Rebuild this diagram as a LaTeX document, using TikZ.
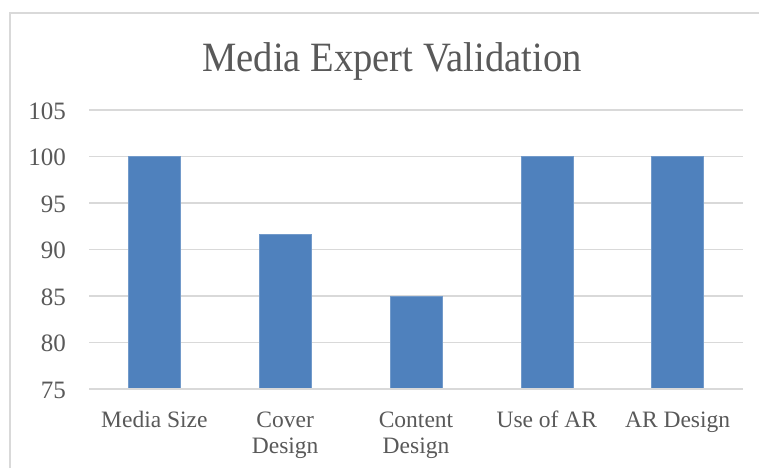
\documentclass[tikz,border=0pt]{standalone}
\usepackage{fontspec}
\setmainfont{Liberation Serif}
\definecolor{barblue}{HTML}{4F81BD}
\definecolor{gridgray}{HTML}{D9D9D9}
\definecolor{txtgray}{HTML}{595959}
\begin{document}
\begin{tikzpicture}[x=1pt,y=-1pt,
  grid/.style={draw=gridgray,line width=1.3pt},
  bar/.style={fill=barblue,draw=barblue!80!white,line width=0.6pt},
  ylab/.style={text=txtgray,font=\fontsize{25}{27}\selectfont,anchor=east,inner sep=0pt},
  xlab/.style={text=txtgray,font=\fontsize{23.5}{26}\selectfont,align=center,anchor=base,inner sep=0pt},
  ttl/.style={text=txtgray,font=\fontsize{38.6}{40}\selectfont,anchor=base,inner sep=0pt}]
\useasboundingbox (0,0) rectangle (759,468);
\fill[white] (0,0) rectangle (759,468);
% frame
\draw[draw=gridgray,line width=2pt] (10,468) -- (10,13) -- (759,13);
% title
\node[ttl] (title) at (392,72) {\scalebox{1}[1.08]{Media Expert Validation}};
% grid and y labels
\foreach \v/\n in {75/a,80/b,85/c,90/d,95/e,100/f,105/g}{
  \pgfmathsetmacro{\yy}{389-(\v-75)*9.3}
  \draw[grid] (89,\yy) -- (743,\yy);
  \node[ylab] (y\n) at (66,\yy+1) {\v};
}
% bars
\foreach \i/\val in {0/100,1/91.67,2/85,3/100,4/100}{
  \pgfmathsetmacro{\cx}{154.4+130.8*\i}
  \pgfmathsetmacro{\top}{389-(\val-75)*9.3}
  \filldraw[bar] (\cx-26,389) rectangle (\cx+26,\top);
}
\draw[grid] (89,389) -- (743,389);
% category labels (base anchor = baseline of last line)
\node[xlab] (c1) at (154.4,427) {Media Size};
\node[xlab] (c2) at (285.2,453) {Cover\\Design};
\node[xlab] (c3) at (416.0,453) {Content\\Design};
\node[xlab] (c4) at (546.8,427) {Use of AR};
\node[xlab] (c5) at (677.6,427) {AR Design};
\end{tikzpicture}
\end{document}
